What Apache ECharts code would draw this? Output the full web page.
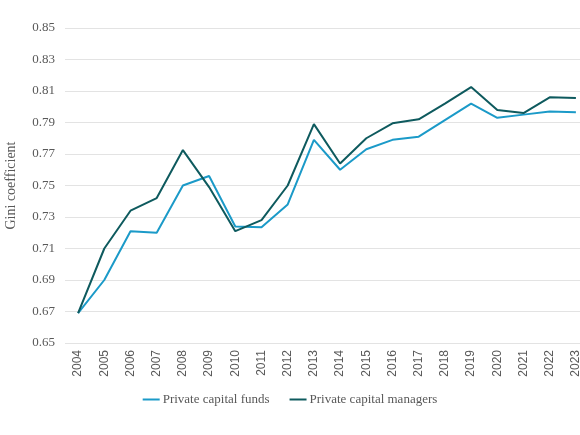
<!DOCTYPE html>
<html>
<head>
<meta charset="utf-8">
<script src="https://cdn.jsdelivr.net/npm/echarts@6/dist/echarts.min.js"></script>
<style>
  html, body { margin: 0; padding: 0; background: #fff; }
  #chart { width: 580px; height: 435px; }
</style>
</head>
<body>
<div id="chart"></div>
<script>
var years = ['2004', '2005', '2006', '2007', '2008', '2009', '2010', '2011', '2012', '2013',
  '2014', '2015', '2016', '2017', '2018', '2019', '2020', '2021', '2022', '2023']
var funds = [0.669, 0.690, 0.721, 0.720, 0.750, 0.756, 0.724, 0.7235, 0.738, 0.779,
  0.760, 0.773, 0.779, 0.781, 0.7915, 0.802, 0.793, 0.795, 0.797, 0.7965]
var managers = [0.669, 0.710, 0.734, 0.742, 0.7725, 0.749, 0.721, 0.728, 0.750, 0.789,
  0.764, 0.780, 0.7895, 0.792, 0.802, 0.8125, 0.798, 0.796, 0.806, 0.8055]
var yTicks = [0.65, 0.67, 0.69, 0.71, 0.73, 0.75, 0.77, 0.79, 0.81, 0.83, 0.85]

var chart = echarts.init(document.getElementById('chart'))
var serif = "'Liberation Serif', 'DejaVu Serif', serif"

var option = {
  animation: false,
  color: ['#1b9ac8', '#0e5a5e'],
  grid: {
    left: 65,
    right: -9,
    top: 28,
    bottom: 92,
    containLabel: false,
    outerBoundsMode: 'none'
  },
  legend: {
    left: 'center',
    top: 388,
    icon: 'rect',
    itemWidth: 17,
    itemHeight: 2,
    itemGap: 20,
    textStyle: {
      fontFamily: serif,
      fontSize: 13,
      color: '#595959',
      padding: [0, 0, 0, -2]
    },
    data: ['Private capital funds', 'Private capital managers']
  },
  xAxis: {
    type: 'category',
    data: years,
    boundaryGap: true,
    axisLine: { show: false },
    axisTick: { show: false },
    axisLabel: {
      rotate: 90,
      margin: 7,
      fontFamily: "'Liberation Sans', Arial, sans-serif",
      fontSize: 12,
      color: '#595959',
      interval: 0
    }
  },
  yAxis: {
    type: 'value',
    min: 0.65,
    max: 0.85,
    name: 'Gini coefficient',
    nameLocation: 'middle',
    nameGap: 47,
    nameTextStyle: {
      fontFamily: serif,
      fontSize: 14,
      color: '#595959'
    },
    axisLine: { show: false },
    axisTick: { show: false, customValues: yTicks },
    axisLabel: {
      customValues: yTicks,
      margin: 10,
      fontFamily: serif,
      fontSize: 13,
      color: '#595959',
      formatter: function (v) { return v.toFixed(2) }
    },
    splitLine: {
      lineStyle: { color: '#e3e3e3', width: 1 }
    }
  },
  series: [{
      name: 'Private capital funds',
      type: 'line',
      data: funds,
      symbol: 'none',
      lineStyle: { width: 2 }
    },
    {
      name: 'Private capital managers',
      type: 'line',
      data: managers,
      symbol: 'none',
      lineStyle: { width: 2 }
    }
  ]
}
chart.setOption(option)
</script>
</body>
</html>
